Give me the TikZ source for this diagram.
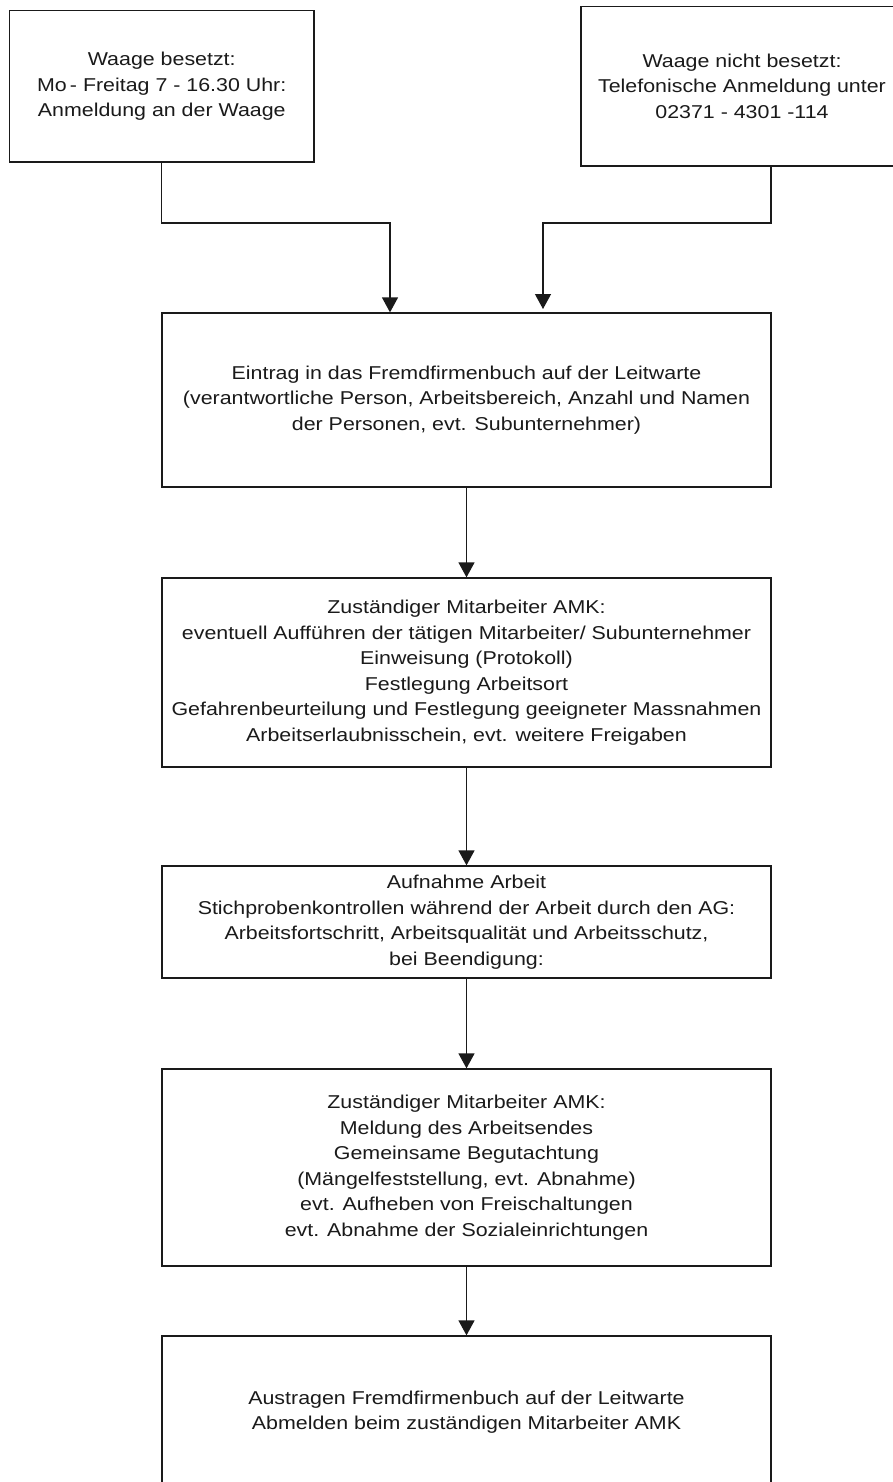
\documentclass[tikz,border=0pt]{standalone}
\usepackage{fontspec}
\setmainfont{Liberation Sans}[FakeStretch=1.15]
\usetikzlibrary{arrows.meta}
\definecolor{ink}{HTML}{1A1A1A}
\tikzset{
  flowbox/.style={draw=ink, line width=1.3pt, rectangle, inner sep=0pt, align=center,
    text=ink, font=\fontsize{18.6pt}{25.5pt}\selectfont},
  conn/.style={draw=ink, line width=1.3pt},
  arr/.style={conn, -{Triangle[length=15pt,width=16pt]}}
}
\begin{document}
\begin{tikzpicture}[x=1pt,y=-1pt]
\useasboundingbox (0,0) rectangle (893,1482);
\clip (0,0) rectangle (893,1482);
\fill[white] (0,0) rectangle (893,1482);

\node[flowbox, minimum width=304.5pt, minimum height=151.3pt] (A) at (161.75,86.35)
  {Waage besetzt:\\Mo\,- Freitag 7 - 16.30 Uhr:\\Anmeldung an der Waage};
\node[flowbox, minimum width=322pt, minimum height=159.3pt] (B) at (742,86.35)
  {Waage nicht besetzt:\\Telefonische Anmeldung unter\\02371 - 4301 -114};
\node[flowbox, minimum width=609pt, minimum height=174pt] (C) at (466.5,400)
  {Eintrag in das Fremdfirmenbuch auf der Leitwarte\\(verantwortliche Person, Arbeitsbereich, Anzahl und Namen\\der Personen, evt. Subunternehmer)};
\node[flowbox, minimum width=609pt, minimum height=189pt] (D) at (466.5,672.5)
  {Zuständiger Mitarbeiter AMK:\\eventuell Aufführen der tätigen Mitarbeiter/ Subunternehmer\\Einweisung (Protokoll)\\Festlegung Arbeitsort\\Gefahrenbeurteilung und Festlegung geeigneter Massnahmen\\Arbeitserlaubnisschein, evt. weitere Freigaben};
\node[flowbox, minimum width=609pt, minimum height=112pt] (E) at (466.5,922)
  {Aufnahme Arbeit\\Stichprobenkontrollen während der Arbeit durch den AG:\\Arbeitsfortschritt, Arbeitsqualität und Arbeitsschutz,\\bei Beendigung:};
\node[flowbox, minimum width=609pt, minimum height=197pt] (F) at (466.5,1167.5)
  {Zuständiger Mitarbeiter AMK:\\Meldung des Arbeitsendes\\Gemeinsame Begutachtung\\(Mängelfeststellung, evt. Abnahme)\\evt. Aufheben von Freischaltungen\\evt. Abnahme der Sozialeinrichtungen};
\node[flowbox, minimum width=609pt, minimum height=152pt] (G) at (466.5,1412)
  {Austragen Fremdfirmenbuch auf der Leitwarte\\Abmelden beim zuständigen Mitarbeiter AMK};

\coordinate (tA) at (390,223);
\coordinate (Bout) at (771,166);
\coordinate (tB) at (543,223);
\coordinate (endB) at (543,309);

\draw[arr] (A.south) |- (tA) -- (tA |- C.north);
\draw[arr] (Bout) |- (tB) -- (endB);
\draw[arr] (C.south) -- (D.north);
\draw[arr] (D.south) -- (E.north);
\draw[arr] (E.south) -- (F.north);
\draw[arr] (F.south) -- (G.north);
\end{tikzpicture}
\end{document}
